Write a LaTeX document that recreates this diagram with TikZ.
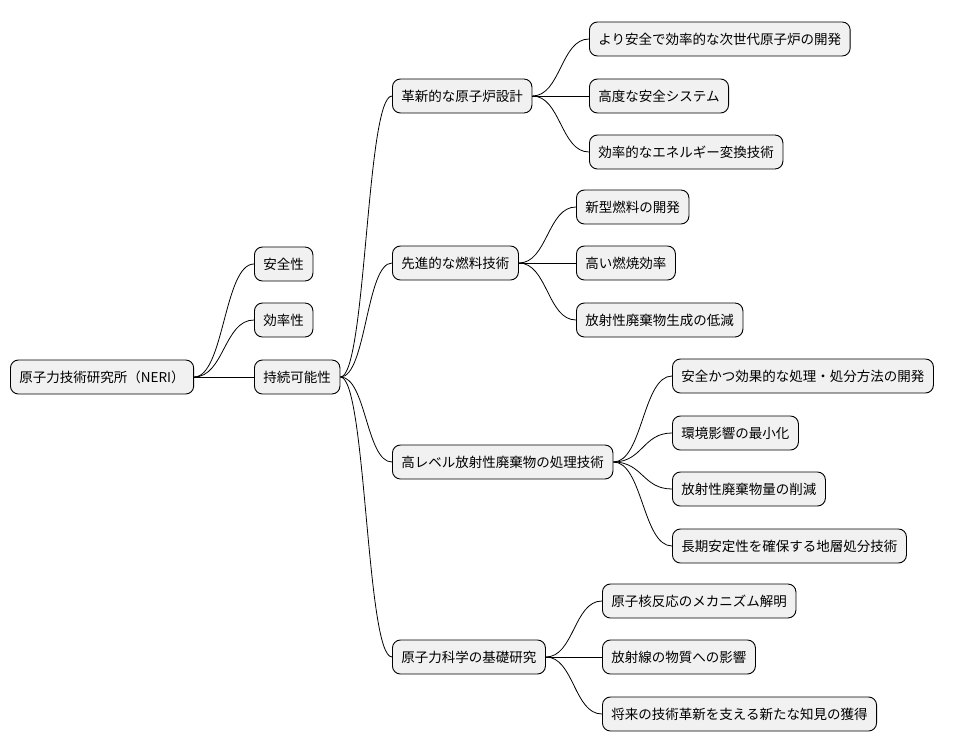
\documentclass[tikz,border=0pt]{standalone}
\usepackage{fontspec}
\setmainfont{Noto Sans CJK JP}
\usetikzlibrary{calc}
\tikzset{
  n/.style={draw=black, fill={rgb,255:red,241;green,241;blue,241}, rounded corners=8pt, line width=0.9pt,
    minimum height=34pt, inner xsep=9pt, anchor=west, font=\fontsize{13.5}{16}\selectfont},
  c/.style={line width=0.8pt}
}
\newcommand\mmconn[2]{%
  \path ($(#1.east)!0.5!(#2.west)$) coordinate (mmid);
  \draw[c] (#1.east) .. controls (mmid |- #1.east) and (mmid |- #2.west) .. (#2.west);}
\begin{document}
\begin{tikzpicture}[x=1pt,y=-1pt]
\useasboundingbox (0,0) rectangle (956,752);
\node[n] (r) at (10,377) {原子力技術研究所（NERI）};
\node[n] (a) at (254,264) {安全性};
\node[n] (b) at (254,320) {効率性};
\node[n] (s) at (254,377) {持続可能性};
\node[n] (s1) at (392,96) {革新的な原子炉設計};
\node[n] (s2) at (392,263) {先進的な燃料技術};
\node[n] (s3) at (392,462) {高レベル放射性廃棄物の処理技術};
\node[n] (s4) at (392,657) {原子力科学の基礎研究};
\node[n] (l11) at (589,39) {より安全で効率的な次世代原子炉の開発};
\node[n] (l12) at (589,96) {高度な安全システム};
\node[n] (l13) at (589,152) {効率的なエネルギー変換技術};
\node[n] (l21) at (576,207) {新型燃料の開発};
\node[n] (l22) at (576,263) {高い燃焼効率};
\node[n] (l23) at (576,320) {放射性廃棄物生成の低減};
\node[n] (l31) at (672,376) {安全かつ効果的な処理・処分方法の開発};
\node[n] (l32) at (672,433) {環境影響の最小化};
\node[n] (l33) at (672,489) {放射性廃棄物量の削減};
\node[n] (l34) at (672,546) {長期安定性を確保する地層処分技術};
\node[n] (l41) at (602,601) {原子核反応のメカニズム解明};
\node[n] (l42) at (602,657) {放射線の物質への影響};
\node[n] (l43) at (602,714) {将来の技術革新を支える新たな知見の獲得};
\mmconn{r}{a}\mmconn{r}{b}\mmconn{r}{s}
\mmconn{s}{s1}\mmconn{s}{s2}\mmconn{s}{s3}\mmconn{s}{s4}
\mmconn{s1}{l11}\mmconn{s1}{l12}\mmconn{s1}{l13}
\mmconn{s2}{l21}\mmconn{s2}{l22}\mmconn{s2}{l23}
\mmconn{s3}{l31}\mmconn{s3}{l32}\mmconn{s3}{l33}\mmconn{s3}{l34}
\mmconn{s4}{l41}\mmconn{s4}{l42}\mmconn{s4}{l43}
\end{tikzpicture}
\end{document}
